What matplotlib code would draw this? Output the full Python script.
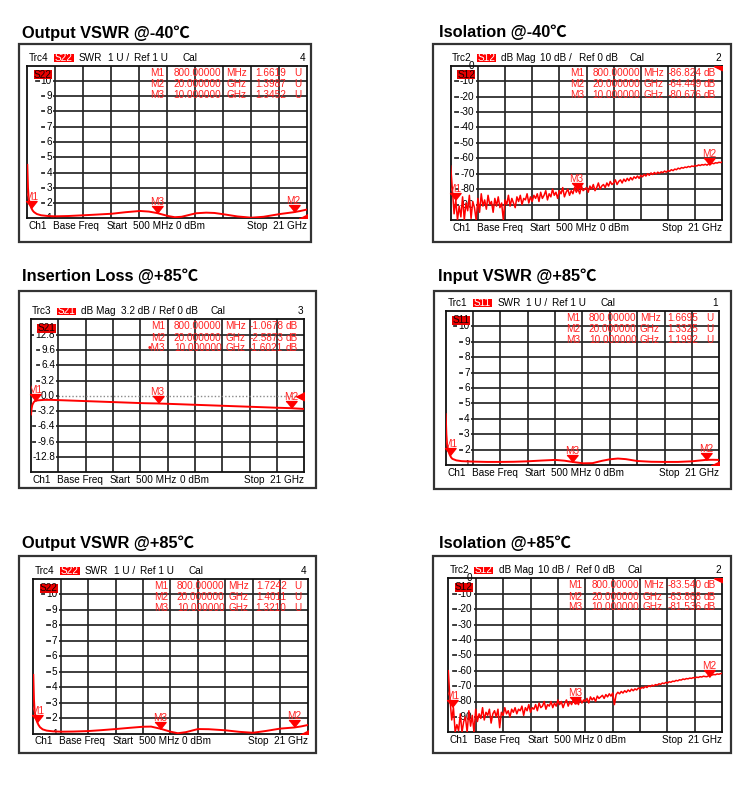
import numpy as np
import matplotlib
matplotlib.use("Agg")
import matplotlib.pyplot as plt
from matplotlib.patches import Rectangle
from matplotlib.transforms import offset_copy

# ---------------- sweep ----------------
F_START, F_STOP = 0.5, 21.0   # GHz

# ---------------- panel texts ----------------
titles = ["Output VSWR @-40℃", "Isolation @-40℃", "Insertion Loss @+85℃",
          "Input VSWR @+85℃", "Output VSWR @+85℃", "Isolation @+85℃"]
trace_names = ["Trc4", "Trc2", "Trc3", "Trc1", "Trc4", "Trc2"]
sparams = ["S22", "S12", "S21", "S11", "S22", "S12"]
formats = ["SWR", "dB Mag", "dB Mag", "SWR", "SWR", "dB Mag"]
scales = ["1 U /", "10 dB /", "3.2 dB /", "1 U /", "1 U /", "10 dB /"]
refs = ["Ref 1 U", "Ref 0 dB", "Ref 0 dB", "Ref 1 U", "Ref 1 U", "Ref 0 dB"]
trace_nums = ["4", "2", "3", "1", "4", "2"]
y_ranges = [(1, 11), (-100, 0), (-16, 16), (1, 11), (1, 11), (-100, 0)]
ref_levels = [1, 0, 0, 1, 1, 0]
swr_ticks = [1, 2, 3, 4, 5, 6, 7, 8, 9, 10]
iso_ticks = [0, -10, -20, -30, -40, -50, -60, -70, -80, -90]
il_ticks = [12.8, 9.6, 6.4, 3.2, 0.0, -3.2, -6.4, -9.6, -12.8]
y_ticks = [swr_ticks, iso_ticks, il_ticks, swr_ticks, swr_ticks, iso_ticks]
tick_fmt = ["{:g}", "{:g}", "{:.1f}", "{:g}", "{:g}", "{:g}"]

# ---------------- markers ----------------
marker_freqs = [0.8, 20.0, 10.0]   # GHz
marker_freq_text = ["800.00000", "20.000000", "10.000000"]
marker_freq_unit = ["MHz", "GHz", "GHz"]
marker_names = [["M1", "M2", "M3"], ["M1", "M2", "M3"], ["M1", "M2", "\u2022M3"],
                ["M1", "M2", "M3"], ["M1", "M2", "M3"], ["M1", "M2", "M3"]]
marker_values = [[1.6619, 1.3987, 1.3452],
                 [-86.824, -64.449, -80.676],
                 [-1.0678, -2.5873, -1.6021],
                 [1.6695, 1.3325, 1.1992],
                 [1.7242, 1.4011, 1.3210],
                 [-83.540, -63.868, -81.536]]
value_decimals = [4, 3, 4, 4, 4, 3]
value_units = ["U", "dB", "dB", "U", "U", "dB"]

# ---------------- trace data ----------------
ovswr_m40_f = [0.5, 0.55, 0.6, 0.7, 0.8, 0.9, 1.0, 1.2, 1.5, 2.0, 2.5, 3.5, 4.65, 5.5, 6.7,
               7.7, 8.75, 9.4, 10.0, 10.8, 11.3, 11.8, 12.85, 13.6, 14.2, 14.9, 15.9, 16.9,
               17.8, 19.0, 20.0, 20.5, 21.0]
ovswr_m40_v = [4.5, 3.0, 2.3, 1.9, 1.66, 1.5, 1.4, 1.28, 1.2, 1.15, 1.13, 1.15, 1.2, 1.24, 1.3,
               1.4, 1.48, 1.44, 1.345, 1.15, 1.07, 1.1, 1.33, 1.37, 1.35, 1.26, 1.12, 1.04,
               1.1, 1.28, 1.3987, 1.48, 1.58]

il_p85_f = [0.5, 0.55, 0.6, 0.7, 0.8, 1.0, 1.5, 2.0, 3.0, 4.0, 5.0, 6.0, 7.0, 8.0, 9.0, 10.0,
            11.0, 12.0, 13.0, 14.0, 15.0, 16.0, 17.0, 18.0, 19.0, 20.0, 21.0]
il_p85_v = [-3.9, -2.6, -1.9, -1.35, -1.0678, -0.95, -0.85, -0.85, -0.95, -1.05, -1.15, -1.25,
            -1.35, -1.45, -1.55, -1.6021, -1.7, -1.8, -1.9, -2.0, -2.1, -2.2, -2.3, -2.4, -2.5,
            -2.5873, -2.75]

ivswr_p85_f = [0.5, 0.55, 0.6, 0.7, 0.8, 0.9, 1.0, 1.3, 1.7, 2.6, 3.6, 4.6, 5.6, 6.65, 7.7, 8.7,
               9.4, 10.0, 10.8, 11.5, 12.2, 12.8, 13.4, 14.0, 14.85, 15.9, 16.9, 17.9, 18.95,
               20.0, 20.5, 21.0]
ivswr_p85_v = [4.3, 3.0, 2.35, 1.9, 1.6695, 1.5, 1.4, 1.3, 1.25, 1.22, 1.2, 1.2, 1.21, 1.24, 1.29,
               1.33, 1.28, 1.1992, 1.11, 1.12, 1.27, 1.37, 1.42, 1.38, 1.26, 1.21, 1.2, 1.2, 1.24,
               1.3325, 1.34, 1.33]

ovswr_p85_f = [0.5, 0.55, 0.6, 0.7, 0.8, 0.9, 1.0, 1.2, 1.5, 2.0, 2.6, 3.5, 4.6, 5.6, 6.65, 7.7,
               8.7, 9.3, 10.0, 10.75, 11.3, 11.9, 12.8, 13.6, 14.85, 15.9, 16.9, 17.9, 18.95,
               20.0, 20.5, 21.0]
ovswr_p85_v = [4.8, 3.2, 2.45, 1.95, 1.7242, 1.55, 1.42, 1.28, 1.2, 1.15, 1.13, 1.14, 1.17, 1.23,
               1.3, 1.38, 1.45, 1.46, 1.321, 1.13, 1.03, 1.1, 1.3, 1.29, 1.22, 1.12, 1.06, 1.18,
               1.33, 1.4011, 1.47, 1.56]

iso_m40 = [-65, -81, -96, -87, -100, -91, -98, -85, -100, -89,
           -94, -84, -99, -88, -92, -100, -86, -95, -83, -91,
           -87, -93, -84, -90, -88, -95, -86, -91, -85, -92,
           -89, -100, -87, -90, -84, -91, -86, -89, -92, -85,
           -88, -84, -90, -86, -87, -83, -89, -85, -88, -84,
           -86, -83, -88, -82, -86, -84, -81, -87, -83, -85,
           -80, -84, -82, -86, -81, -83, -79, -85, -82, -80,
           -84, -81, -83, -79, -82, -80, -83, -78, -81, -80,
           -79, -82, -78, -80, -77, -81, -79, -76, -80, -78,
           -77, -79, -76, -78, -75, -77, -76, -74, -77, -75,
           -74, -76, -73.5, -75, -73, -74.5, -72.5, -74, -72, -73,
           -71.5, -73, -71, -72, -70.5, -71.5, -70, -71, -69.5, -70.5,
           -69.2, -70.2, -69.0, -69.8, -68.8, -69.3, -68.3, -69.0, -67.9, -68.4,
           -67.4, -68.0, -67.0, -67.4, -66.4, -66.9, -66.0, -66.4, -65.7, -66.0,
           -65.3, -65.7, -65.0, -65.3, -64.7, -65.0, -64.3, -64.7, -64.1, -64.4,
           -63.9, -64.45, -63.6, -63.8, -63.2, -63.5, -62.9, -63.1, -62.6, -62.8, -62.3]

iso_p85 = [-60, -79, -92, -84, -100, -95, -99, -88, -100, -93,
           -90, -100, -86, -96, -89, -100, -85, -93, -88, -91,
           -84, -92, -87, -89, -85, -94, -88, -86, -90, -85,
           -97, -87, -89, -84, -88, -86, -90, -85, -87, -84,
           -88, -85, -86, -83, -89, -84, -86, -82, -87, -84,
           -85, -82, -86, -81, -84, -83, -80, -85, -82, -83,
           -80, -84, -81, -83, -79, -82, -80, -84, -81, -79,
           -83, -80, -82, -79, -81.5, -80, -82, -78, -81, -79,
           -80, -78, -81, -77, -79, -77.5, -80, -76.5, -78, -77,
           -76, -78, -75.5, -77, -75, -76.5, -74.5, -82, -75.5, -74,
           -75, -73.5, -74.5, -73, -74, -72.5, -73.5, -72, -73, -71.8,
           -72.5, -71.2, -72, -70.8, -71.3, -70.2, -70.9, -69.8, -70.3, -69.4,
           -69.9, -69, -69.4, -68.5, -68.9, -68, -68.4, -67.6, -68, -67.2,
           -67.5, -66.8, -67, -66.3, -66.6, -65.9, -66.1, -65.4, -65.7, -65.1,
           -65.3, -64.8, -65, -64.5, -64.7, -64.2, -64.4, -63.9, -64.1, -63.6,
           -63.8, -63.9, -63.3, -63.0, -62.8, -62.5, -62.6, -62.1, -62.3, -61.9, -61.7]

trace_f = [ovswr_m40_f, None, il_p85_f, ivswr_p85_f, ovswr_p85_f, None]
trace_v = [ovswr_m40_v, iso_m40, il_p85_v, ivswr_p85_v, ovswr_p85_v, iso_p85]

# ---------------- layout (pixels) ----------------
W, H = 750, 792
boxes = [(19, 44, 311, 242), (433.3, 44.3, 731, 241.7), (19.3, 290.7, 316, 488),
         (434, 290.7, 731, 489.3), (19.3, 555.7, 316, 753.3), (433.3, 555.7, 731, 753.3)]
grids = [(27.3, 65.7, 307.3, 218.3), (450.7, 65.7, 722.3, 220), (31, 319.3, 304.3, 472.3),
         (445.7, 311, 719.3, 465), (33.3, 579, 307.7, 733.7), (448.3, 578.3, 722.3, 732.3)]
title_pos = [(22.3, 37.7), (439.3, 36.7), (22.3, 280.7), (438.3, 280.7), (22.3, 548.3),
             (439.3, 547.7)]

FS = 7.2
RED = "#ff0000"
MRED = "#ff2020"
GRID = "#262626"
GLW = 1.25
plt.rcParams["font.family"] = ["Liberation Sans", "DejaVu Sans"]

fig = plt.figure(figsize=(7.5, 7.92), dpi=100)
fig.patch.set_facecolor("white")


def fx(x):
    return x / W


def fy(y):
    return 1 - y / H


def ftext(x, y, s, **kw):
    kw.setdefault("fontsize", FS)
    kw.setdefault("va", "center")
    kw.setdefault("ha", "left")
    return fig.text(fx(x), fy(y), s, **kw)


def frect(l, t, r, b, **kw):
    rect = Rectangle((fx(l), fy(b)), (r - l) / W, (b - t) / H,
                     transform=fig.transFigure, **kw)
    fig.add_artist(rect)
    return rect


down_tri = [(-0.8, 1.0), (0.8, 1.0), (0.0, 0.0)]
left_tri = [(0.0, 0.5), (0.0, -0.5), (-1.0, 0.0)]

pending = []
for i in range(6):
    bl, bt, br, bb = boxes[i]
    gl, gt, gr, gb = grids[i]
    gw, gh = gr - gl, gb - gt
    is_swr = formats[i] == "SWR"

    frect(bl, bt, br, bb, fill=False, ec="#333333", lw=1.6)
    ftext(title_pos[i][0], title_pos[i][1], titles[i], fontsize=11.8, fontweight="bold",
          va="baseline", family=["Liberation Sans", "Noto Sans CJK SC", "DejaVu Sans"])

    ax = fig.add_axes([fx(gl), fy(gb), gw / W, gh / H])
    y0, y1 = y_ranges[i]
    ax.set_xlim(F_START, F_STOP)
    ax.set_ylim(y0, y1)
    ax.set_xticks([])
    ax.set_yticks([])
    for s in ax.spines.values():
        s.set_color("#101010")
        s.set_linewidth(1.3)

    xs = np.linspace(F_START, F_STOP, 11)
    ys = np.linspace(y0, y1, 11)
    for x in xs[1:-1]:
        ax.axvline(x, color=GRID, lw=GLW, zorder=1)
    x1 = xs[1]
    for y in ys[1:-1]:
        if formats[i] != "SWR" and y0 < 0 < y1 and abs(y) < 1e-9:
            ax.plot([x1, F_STOP], [0, 0], color="#8a8a8a", lw=1.0, ls=(0, (1, 1.5)), zorder=1)
        else:
            ax.plot([x1, F_STOP], [y, y], color=GRID, lw=GLW, zorder=1)

    lab_tr = offset_copy(ax.transData, fig, x=-3.3, y=0, units="dots")
    for v in y_ticks[i]:
        t = ax.text(x1, v, tick_fmt[i].format(v), transform=lab_tr, ha="right", va="center",
                    fontsize=FS, color="black", zorder=2.2, clip_on=(v == y0),
                    bbox=dict(boxstyle="square,pad=0.12", fc="white", ec="none"))
        if y0 < v < y1:
            pending.append((ax, t, v, x1))

    # header
    hy = gt - 8
    if is_swr:
        offs, boxw = [1.7, 26.8, 51.5, 80.5, 106.7, 155.0], 19.5
    else:
        offs, boxw = [1.2, 26.1, 50.3, 89.6, 128.0, 179.0], 18.7
    ftext(gl + offs[0], hy, trace_names[i])
    frect(gl + offs[1], hy - 3.8, gl + offs[1] + boxw, hy + 3.8, fc="#ff0000", ec="none")
    ftext(gl + offs[1] + boxw / 2, hy, sparams[i], ha="center", color="white")
    ftext(gl + offs[2], hy, formats[i])
    ftext(gl + offs[3], hy, scales[i])
    ftext(gl + offs[4], hy, refs[i])
    ftext(gl + offs[5], hy, "Cal")
    ftext(gr - 1.5, hy, trace_nums[i], ha="right")

    # footer
    fty = gb + 7.7
    ftext(gl + 1.5, fty, "Ch1")
    ftext(gl + 26, fty, "Base Freq")
    ftext(gl + 79, fty, "Start")
    ftext(gl + 105.5, fty, "500 MHz")
    ftext(gl + 149, fty, "0 dBm")
    ftext(gr, fty, "Stop  21 GHz", ha="right")

    # trace label box inside the grid
    frect(gl + 6.3, gt + 4.7, gl + 24.8, gt + 13.5, fc="#e80000", ec="none", zorder=1.5)
    ftext(gl + 15.55, gt + 9.1, sparams[i], ha="center", color="#1a0000", zorder=3.5)

    # marker readout
    rows = [7.0, 18.3, 29.0]
    for k in range(3):
        yy = 1 - rows[k] / gh
        kw = dict(transform=ax.transAxes, fontsize=FS, color=MRED, va="center", zorder=4)
        ax.text(0.49, yy, marker_names[i][k], ha="right", **kw)
        ax.text(0.523, yy, marker_freq_text[k], ha="left", **kw)
        ax.text(0.71, yy, marker_freq_unit[k], ha="left", **kw)
        ax.text(0.923, yy, f"{marker_values[i][k]:.{value_decimals[i]}f}", ha="right", **kw)
        ax.text(0.978, yy, value_units[i], ha="right", **kw)

    # trace
    vals = trace_v[i]
    fr = trace_f[i] if trace_f[i] is not None else np.linspace(F_START, F_STOP, len(vals))
    lw = 1.4 if trace_f[i] is not None else 1.1
    ax.plot(fr, vals, color=RED, lw=lw, zorder=5)

    # markers
    for k in range(3):
        f, v = marker_freqs[k], marker_values[i][k]
        ax.plot([f], [v], marker=down_tri, ms=10, color=RED, mec=RED, ls="none",
                zorder=6, clip_on=False)
        ax.text(f, v, marker_names[i][k].replace("\u2022", ""),
                transform=offset_copy(ax.transData, fig, x=0, y=11, units="dots"),
                ha="center", va="center", fontsize=FS, color=MRED, zorder=6, clip_on=True)
    # reference position marker
    ax.plot([F_STOP], [ref_levels[i]], marker=left_tri, ms=12, color=RED, ls="none",
            zorder=6, clip_on=True)

fig.canvas.draw()
renderer = fig.canvas.get_renderer()
for ax, t, v, x1 in pending:
    bbx = t.get_window_extent(renderer)
    xd = ax.transData.inverted().transform((bbx.x0 - 4.5, 0))[0]
    xd = max(xd, F_START)
    ax.plot([xd, x1], [v, v], color=GRID, lw=GLW, zorder=1.5)

fig.savefig("out.png", dpi=100)
